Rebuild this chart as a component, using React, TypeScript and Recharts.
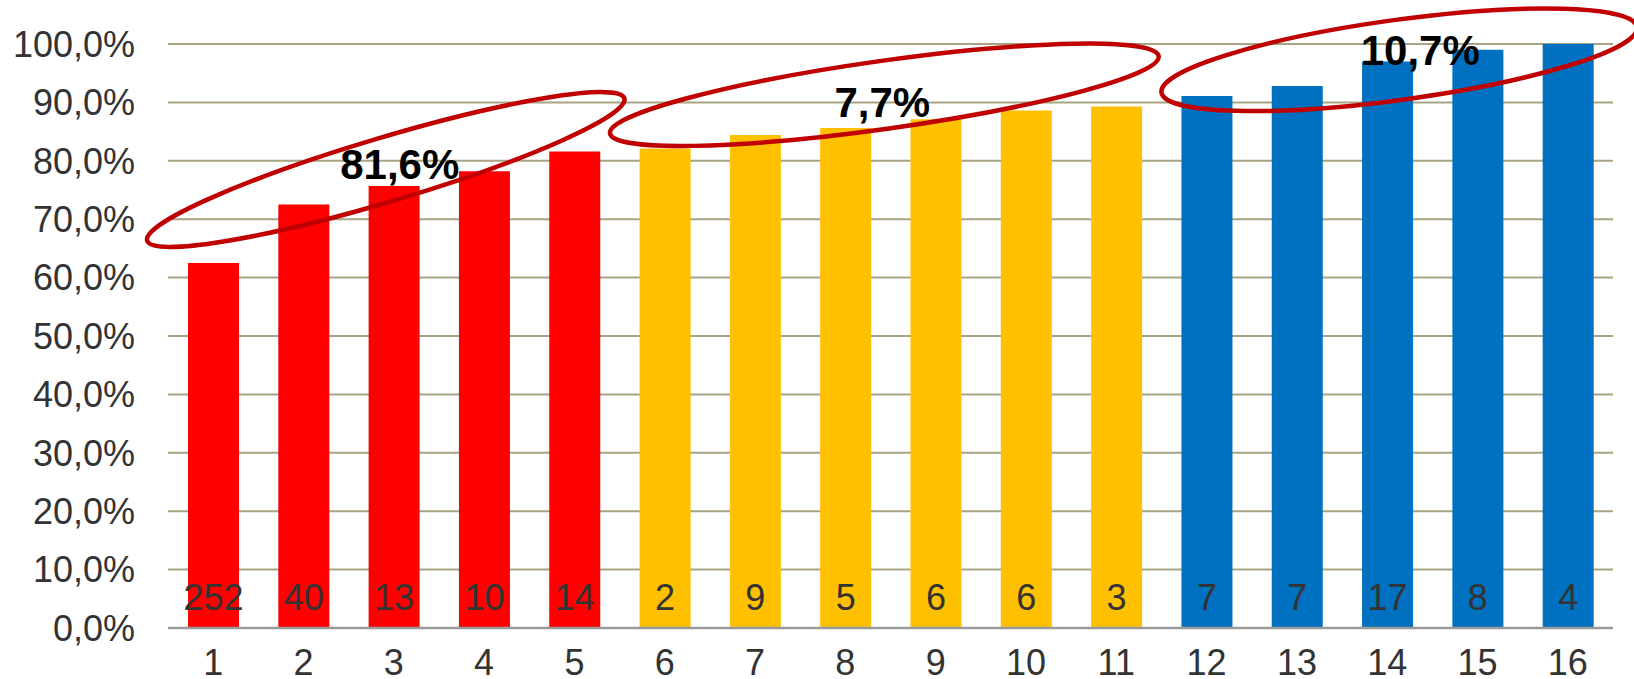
import { BarChart, Bar, XAxis, YAxis, CartesianGrid, Cell, LabelList, ReferenceDot } from 'recharts'

const categories = ['1', '2', '3', '4', '5', '6', '7', '8', '9', '10', '11', '12', '13', '14', '15', '16']
const cumulativePct = [62.5, 72.5, 75.7, 78.2, 81.6, 82.1, 84.4, 85.6, 87.1, 88.6, 89.3, 91.1, 92.8, 97.0, 99.0, 100.0]
const counts = [252, 40, 13, 10, 14, 2, 9, 5, 6, 6, 3, 7, 7, 17, 8, 4]
const groupOf = [0, 0, 0, 0, 0, 1, 1, 1, 1, 1, 1, 2, 2, 2, 2, 2]
const groupLabels = ['81,6%', '7,7%', '10,7%']
const yTicks = [0, 10, 20, 30, 40, 50, 60, 70, 80, 90, 100]

const groupColors = ['#FF0000', '#FFC000', '#0070C0']
const FONT = '"Liberation Sans", Arial, sans-serif'
const TEXT = '#333333'

// red rings drawn round each group, anchored on a category / value
const rings = [
  { x: '3', y: 78.5, dx: -8, rx: 249, ry: 32, angle: -16.6, tx: 14, ty: 9 },
  { x: '8', y: 91.3, dx: 39, rx: 277, ry: 34, angle: -8, tx: -2, ty: 22 },
  { x: '14', y: 97.3, dx: 12, rx: 240, ry: 40, angle: -7.8, tx: 21, ty: 5 },
]

const data = categories.map((name, i) => ({
  name,
  pct: cumulativePct[i],
  count: counts[i],
  group: groupOf[i],
}))

const fmtPct = (v: number) => `${v.toFixed(1).replace('.', ',')}%`

function Ring(props: any, ring: typeof rings[number], label: string) {
  const cx = props.cx + ring.dx
  const cy = props.cy
  return (
    <g>
      <ellipse
        cx={cx}
        cy={cy}
        rx={ring.rx}
        ry={ring.ry}
        fill="none"
        stroke="#C00000"
        strokeWidth={4.5}
        transform={`rotate(${ring.angle} ${cx} ${cy})`}
      />
      <text
        x={cx + ring.tx}
        y={cy + ring.ty}
        textAnchor="middle"
        fontFamily={FONT}
        fontWeight="bold"
        fontSize={42}
        fill="#000"
      >
        {label}
      </text>
    </g>
  )
}

export default function App() {
  return (
    <div style={{ position: 'absolute', left: 0, top: 0, background: '#fff' }}>
      <BarChart
        width={1634}
        height={679}
        data={data}
        margin={{ top: 44, right: 21, bottom: 0, left: 0 }}
        barSize={51}
      >
        <CartesianGrid vertical={false} stroke="#A8A383" strokeWidth={2} />
        <XAxis
          dataKey="name"
          interval={0}
          height={51}
          tickLine={false}
          tickSize={0}
          tickMargin={21}
          axisLine={{ stroke: '#9A9A9A', strokeWidth: 2.5 }}
          tick={{ fill: TEXT, fontSize: 36, fontFamily: FONT }}
        />
        <YAxis
          domain={[0, 100]}
          ticks={yTicks}
          width={168}
          tickLine={false}
          tickSize={0}
          tickMargin={33}
          axisLine={false}
          tickFormatter={fmtPct}
          tick={{ fill: TEXT, fontSize: 36, fontFamily: FONT }}
        />
        <Bar dataKey="pct" isAnimationActive={false}>
          {data.map((d) => (
            <Cell key={d.name} fill={groupColors[d.group]} />
          ))}
          <LabelList
            dataKey="count"
            position="insideBottom"
            offset={18}
            fill={TEXT}
            fontSize={36}
            fontFamily={FONT}
          />
        </Bar>
        {rings.map((ring, i) => (
          <ReferenceDot
            key={i}
            x={ring.x}
            y={ring.y}
            ifOverflow="visible"
            shape={(p: any) => Ring(p, ring, groupLabels[i])}
          />
        ))}
      </BarChart>
    </div>
  )
}
